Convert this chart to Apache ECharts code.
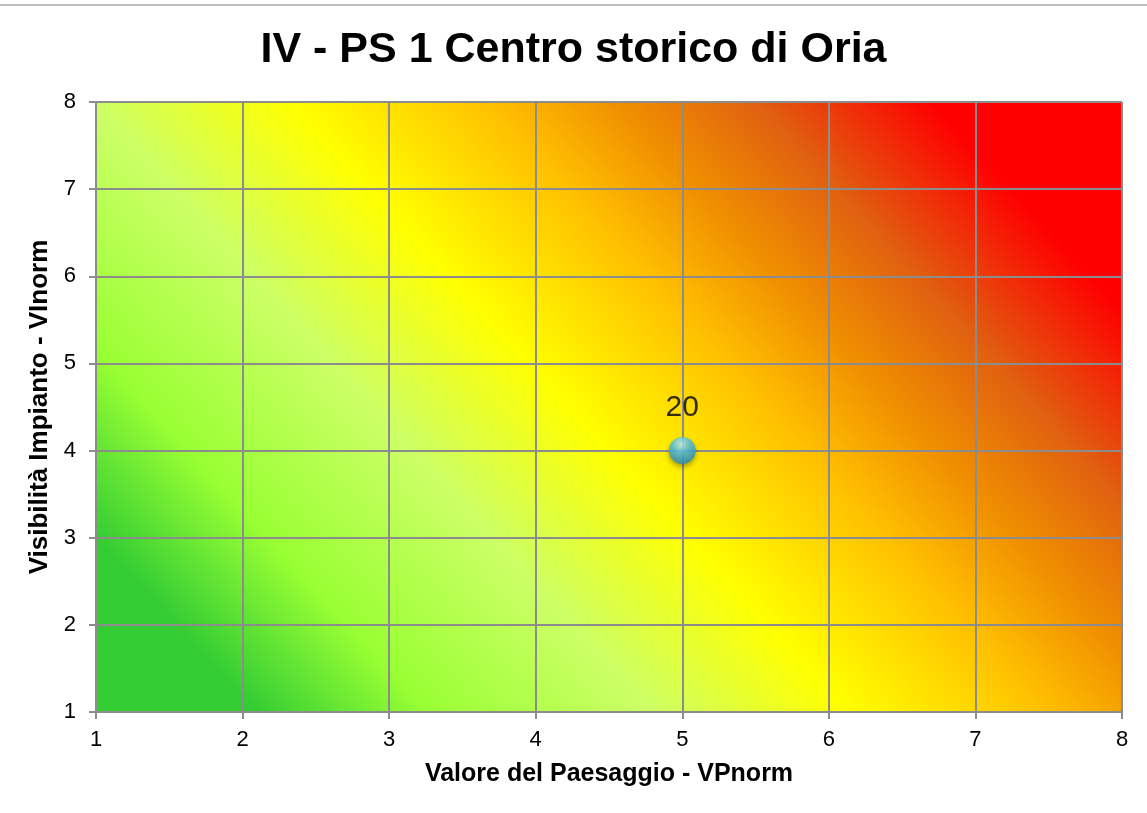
<!DOCTYPE html>
<html>
<head>
<meta charset="utf-8">
<title>IV - PS 1 Centro storico di Oria</title>
<script src="https://cdn.jsdelivr.net/npm/echarts@6/dist/echarts.min.js"></script>
<style>
  html, body { margin: 0; padding: 0; background: #fff; }
  #chart { width: 1147px; height: 813px; }
</style>
</head>
<body>
<div id="chart"></div>
<script>
// dati del grafico
const chartTitle = 'IV - PS 1 Centro storico di Oria';
const xName = 'Valore del Paesaggio - VPnorm';
const yName = 'Visibilità Impianto - VInorm';
const vpNorm = [5];      // valore del paesaggio
const viNorm = [4];      // visibilità impianto
const scores = [20];     // etichetta del punto
const axisMin = 1;
const axisMax = 8;

// sfondo a gradiente: verde -> giallo -> rosso
const bgStops = [
  { offset: 0, color: '#33cc33' },
  { offset: 0.1, color: '#33cc33' },
  { offset: 0.21, color: '#99ff33' },
  { offset: 0.35, color: '#ccff66' },
  { offset: 0.475, color: '#ffff00' },
  { offset: 0.6, color: '#ffc000' },
  { offset: 0.68, color: '#f09000' },
  { offset: 0.77, color: '#e06010' },
  { offset: 0.88, color: '#ff0000' },
  { offset: 1, color: '#ff0000' }
];

const points = vpNorm.map((x, i) => [x, viNorm[i], scores[i]]);

const font = 'Liberation Sans, Arial, Helvetica, sans-serif';
const gridColor = '#8c8c8c';

const myChart = echarts.init(document.getElementById('chart'));
myChart.setOption({
  animation: false,
  textStyle: { fontFamily: font },
  title: {
    text: chartTitle,
    left: 'center',
    top: 24,
    textStyle: { fontSize: 43, fontWeight: 'bold', color: '#000', fontFamily: font }
  },
  graphic: [{
    type: 'rect',
    shape: { x: 0, y: 4, width: 1147, height: 2 },
    style: { fill: '#bdbdbd' },
    silent: true
  }],
  grid: {
    left: 96,
    right: 25,
    top: 102,
    bottom: 101,
    show: true,
    borderWidth: 0,
    backgroundColor: new echarts.graphic.LinearGradient(96, 712, 958, -77, bgStops, true)
  },
  xAxis: {
    type: 'value',
    min: axisMin,
    max: axisMax,
    interval: 1,
    name: xName,
    nameLocation: 'middle',
    nameGap: 50,
    nameTextStyle: { fontSize: 25, fontWeight: 'bold', color: '#000', fontFamily: font },
    axisLine: { show: true, lineStyle: { color: gridColor, width: 2 } },
    axisTick: { show: true, length: 7, lineStyle: { color: gridColor, width: 2 } },
    axisLabel: { fontSize: 22, color: '#000', margin: 17 },
    splitLine: { show: true, lineStyle: { color: gridColor, width: 2 } }
  },
  yAxis: {
    type: 'value',
    min: axisMin,
    max: axisMax,
    interval: 1,
    name: yName,
    nameLocation: 'middle',
    nameGap: 42,
    nameTextStyle: { fontSize: 26, fontWeight: 'bold', color: '#000', fontFamily: font },
    axisLine: { show: true, lineStyle: { color: gridColor, width: 2 } },
    axisTick: { show: true, length: 7, lineStyle: { color: gridColor, width: 2 } },
    axisLabel: { fontSize: 22, color: '#000', margin: 20 },
    splitLine: { show: true, lineStyle: { color: gridColor, width: 2 } }
  },
  series: [{
    type: 'scatter',
    data: points,
    symbol: 'circle',
    symbolSize: 27,
    itemStyle: {
      color: new echarts.graphic.RadialGradient(0.45, 0.28, 0.75, [
        { offset: 0, color: '#c8f6ff' },
        { offset: 0.4, color: '#52c2ea' },
        { offset: 1, color: '#1f86b8' }
      ]),
      shadowBlur: 5,
      shadowOffsetY: 3,
      shadowColor: 'rgba(0,0,0,0.4)'
    },
    label: {
      show: true,
      position: 'top',
      distance: 14,
      fontSize: 30,
      color: '#000',
      formatter: p => p.value[2]
    }
  }]
});
window.onresize = function () {
  myChart.resize();
};
</script>
</body>
</html>
